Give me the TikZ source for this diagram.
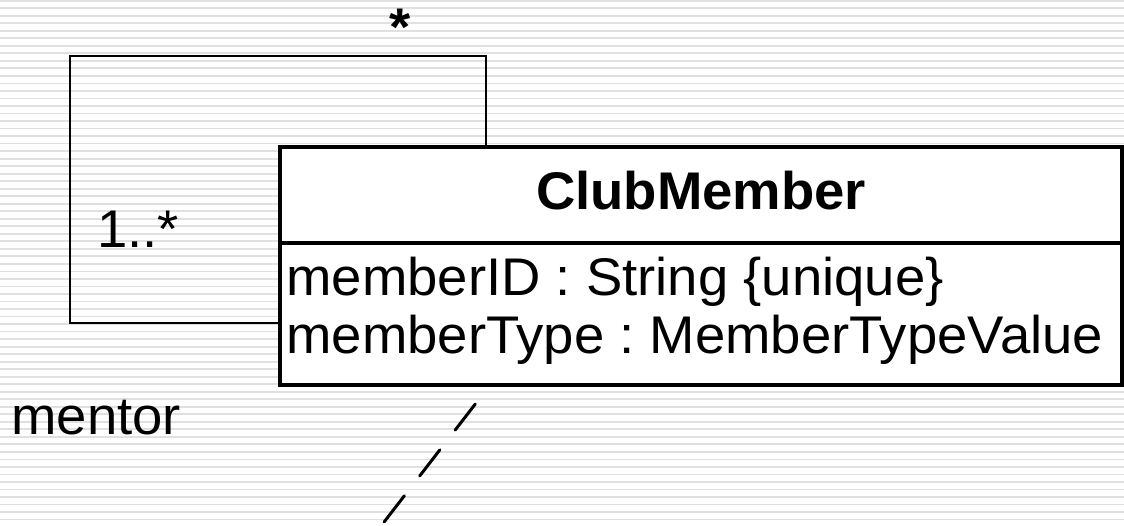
\documentclass[tikz,border=0pt]{standalone}
\usepackage{fontspec}
\setmainfont[FakeStretch=1.028]{Liberation Sans}
\frenchspacing
\begin{document}
\begin{tikzpicture}[x=1pt,y=-1pt,
  stripe/.style={line width=1.8pt,draw=black!12},
  classbox/.style={draw=black,line width=3.5pt,fill=white,inner sep=0pt,outer sep=0pt},
  classline/.style={draw=black,line width=3.5pt},
  assoc/.style={draw=black,line width=2.5pt,line join=miter},
  depline/.style={draw=black,line width=3pt,line cap=round,dash pattern=on 33pt off 25pt,dash phase=34pt},
  txt/.style={inner sep=0pt,outer sep=0pt,font=\fontsize{53}{60}\selectfont}]
\useasboundingbox (0,0) rectangle (1124,526);
\fill[white] (0,0) rectangle (1124,526);
\foreach \i in {0,...,70} \draw[stripe] (0,{\i*7.52+0.7}) -- (1124,{\i*7.52+0.7});
% class
\node[classbox,anchor=north west,minimum width=842pt,minimum height=238pt] (cm) at (280,147) {};
\draw[classline] ([yshift=-96pt]cm.north west) -- ([yshift=-96pt]cm.north east);
\node[txt,anchor=base] (cmname) at (701,210) {\bfseries ClubMember};
\node[txt,anchor=base west] (attr1) at (286.5,296) {memberID : String \{unique\}};
\node[txt,anchor=base west] (attr2) at (286.5,353) {memberType : MemberTypeValue};
% self association
\draw[assoc] ([xshift=206pt]cm.north west) |- (70,56) |- ([yshift=-176pt]cm.north west);
\node[txt,anchor=base] (mstar) at (400,46) {\bfseries *};
\node[txt,anchor=base west] (mone) at (97,248) {1..*};
\node[txt,anchor=base west] (mrole) at (11.5,434) {mentor};
% dependency
\coordinate (dend) at (381,526);
\draw[depline] ([xshift=210pt]cm.south west) -- (dend);
\end{tikzpicture}
\end{document}
